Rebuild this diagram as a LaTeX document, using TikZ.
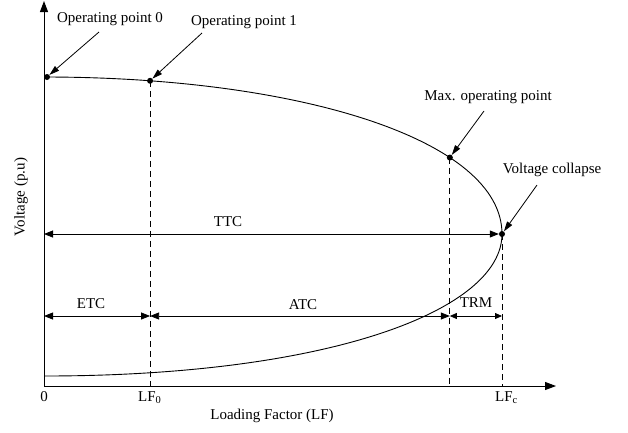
\documentclass[tikz,border=0pt]{standalone}
\usepackage{fontspec}
\setmainfont{Liberation Serif}
\usetikzlibrary{arrows.meta}
\begin{document}
\begin{tikzpicture}[x=1pt,y=-1pt,
  lbl/.style={font=\fontsize{15}{18}\selectfont, inner sep=0pt},
  axisline/.style={line width=1pt,-{Triangle[length=11pt,width=8pt]}},
  dim/.style={line width=0.8pt,{Triangle[length=9pt,width=7pt]}-{Triangle[length=9pt,width=7pt]}},
  dimsmall/.style={line width=0.8pt,{Triangle[length=7pt,width=6pt]}-{Triangle[length=7pt,width=6pt]}},
  pointer/.style={line width=0.8pt,-{Triangle[length=10pt,width=6pt]}},
  guide/.style={line width=0.8pt,dash pattern=on 6pt off 4pt},
  pv/.style={line width=0.9pt},
  dot/.style={circle,fill,inner sep=0pt,minimum size=6pt}]
\useasboundingbox (0,0) rectangle (628,432);

% axes
\coordinate (o) at (44,386);
\coordinate (ytop) at (44,1);
\coordinate (xend) at (556,386);
\draw[axisline] (o) -- (ytop);
\draw[axisline] (o) -- (xend);

% PV (nose) curve
\draw[pv] (44,77) .. controls (300,77) and (502,140) ..
  coordinate[pos=0.143] (op1) coordinate[pos=0.695] (opmax) (502,234)
  coordinate (vc)
  .. controls (502,310) and (330,376) .. (44,376);

% operating points
\node[dot] (d0) at (47,77) {};
\node[dot] (d1) at (op1) {};
\node[dot] (dm) at (opmax) {};
\node[dot] (dc) at (vc) {};

% vertical guides
\draw[guide] (d1.center) -- (d1.center |- o);
\draw[guide] (dm.center) -- (dm.center |- o);
\draw[guide] (dc.center) -- (dc.center |- o);

% capacity dimensions
\coordinate (r) at (44,316);
\coordinate (t) at (44,234);
\draw[dim] (t) -- (dc);
\draw[dim] (r) -- (d1.center |- r);
\draw[dim] (d1.center |- r) -- (dm.center |- r);
\draw[dimsmall] (dm.center |- r) -- (dc.center |- r);

\node[lbl] (ttc) at (228,222) {TTC};
\node[lbl] (etc) at (91,304) {ETC};
\node[lbl] (atc) at (303,305) {ATC};
\node[lbl] (trm) at (476,303) {TRM};

% axis labels
\node[lbl] (zero) at (44,397) {0};
\node[lbl, anchor=west] (lfo) at (138,398) {LF\textsubscript{0}};
\node[lbl, anchor=west] (lfc) at (495,398) {LF\textsubscript{c}};
\node[lbl] (xlab) at (272,416) {Loading Factor (LF)};
\node[lbl, rotate=90] (ylab) at (21,197) {Voltage (p.u)};

% callouts
\node[lbl] (l0) at (110,19) {Operating point 0};
\node[lbl] (l1) at (244,22) {Operating point 1};
\node[lbl] (lm) at (488,97) {Max. operating point};
\node[lbl] (lc) at (552,170) {Voltage collapse};
\coordinate (p0) at (99,32);
\coordinate (p1) at (202,33);
\coordinate (pm) at (484,111);
\coordinate (pc) at (537,185);
\draw[pointer] (p0) -- (d0);
\draw[pointer] (p1) -- (d1);
\draw[pointer] (pm) -- (dm);
\draw[pointer] (pc) -- (dc);
\end{tikzpicture}
\end{document}
